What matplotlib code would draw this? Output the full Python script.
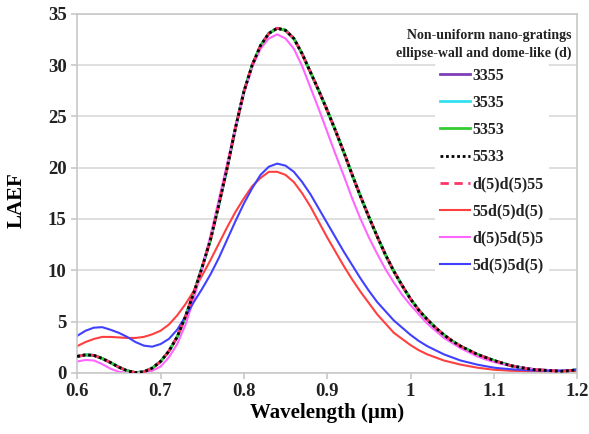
import numpy as np
import matplotlib.pyplot as plt

# wavelength grid (um)
wl = [0.60, 0.61, 0.62, 0.63, 0.64, 0.65, 0.66, 0.67, 0.68, 0.69,
      0.70, 0.71, 0.72, 0.73, 0.74, 0.75, 0.76, 0.77, 0.78, 0.79,
      0.80, 0.81, 0.82, 0.83, 0.84, 0.85, 0.86, 0.87, 0.88, 0.89,
      0.90, 0.91, 0.92, 0.93, 0.94, 0.95, 0.96, 0.97, 0.98, 0.99,
      1.00, 1.01, 1.02, 1.03, 1.04, 1.05, 1.06, 1.07, 1.08, 1.09,
      1.10, 1.11, 1.12, 1.13, 1.14, 1.15, 1.16, 1.17, 1.18, 1.19, 1.20]

# the five near-identical structures
s3355 = [1.6, 1.75, 1.7, 1.4, 1.0, 0.55, 0.2, 0.02, 0.1, 0.45,
         1.1, 2.1, 3.5, 5.5, 7.8, 10.3, 13.0, 16.4, 20.0, 23.9,
         27.4, 30.0, 31.9, 33.1, 33.6, 33.4, 32.6, 31.1, 29.3, 27.5,
         25.6, 23.6, 21.5, 19.3, 17.2, 15.2, 13.3, 11.5, 9.9, 8.5,
         7.2, 6.1, 5.2, 4.4, 3.7, 3.1, 2.6, 2.2, 1.8, 1.5,
         1.2, 0.95, 0.7, 0.55, 0.4, 0.3, 0.25, 0.2, 0.15, 0.2, 0.3]
s3535 = list(s3355)
s5353 = list(s3355)
s5533 = list(s3355)
sd5d555 = list(s3355)

s55d5d5 = [2.6, 3.0, 3.3, 3.5, 3.5, 3.45, 3.4, 3.4, 3.5, 3.75,
           4.1, 4.7, 5.6, 6.7, 8.0, 9.5, 11.0, 12.6, 14.2, 15.7,
           17.0, 18.2, 19.0, 19.6, 19.6, 19.3, 18.6, 17.5, 16.2, 14.7,
           13.2, 11.8, 10.4, 9.1, 7.9, 6.8, 5.7, 4.8, 3.9, 3.3,
           2.7, 2.2, 1.8, 1.5, 1.2, 1.0, 0.8, 0.65, 0.5, 0.4,
           0.3, 0.25, 0.2, 0.18, 0.15, 0.12, 0.1, 0.1, 0.1, 0.15, 0.2]
sd55d55 = [1.1, 1.25, 1.2, 0.85, 0.4, 0.1, 0.0, 0.0, 0.0, 0.2,
           0.6, 1.5, 2.8, 4.7, 7.2, 10.2, 13.4, 16.9, 20.4, 24.0,
           27.3, 29.8, 31.6, 32.6, 33.0, 32.6, 31.6, 29.9, 27.8, 25.7,
           23.5, 21.3, 19.2, 17.0, 15.0, 13.2, 11.6, 10.1, 8.8, 7.6,
           6.6, 5.7, 4.8, 4.1, 3.4, 2.9, 2.4, 2.0, 1.6, 1.3,
           1.05, 0.85, 0.7, 0.55, 0.45, 0.35, 0.3, 0.25, 0.2, 0.25, 0.3]
s5d55d5 = [3.6, 4.1, 4.4, 4.45, 4.2, 3.9, 3.5, 3.0, 2.65, 2.55,
           2.8, 3.3, 4.2, 5.5, 6.9, 8.2, 9.6, 11.2, 13.0, 14.8,
           16.5, 18.0, 19.3, 20.1, 20.4, 20.2, 19.6, 18.6, 17.4, 16.0,
           14.6, 13.2, 11.8, 10.5, 9.2, 8.0, 6.9, 6.0, 5.1, 4.4,
           3.7, 3.1, 2.6, 2.2, 1.8, 1.5, 1.2, 1.0, 0.8, 0.65,
           0.5, 0.42, 0.35, 0.3, 0.25, 0.22, 0.2, 0.2, 0.2, 0.25, 0.3]

serif = 'Liberation Serif'
fig = plt.figure(figsize=(5.89, 4.34), dpi=100)
ax = fig.add_axes([0.131, 0.141, 0.849, 0.827])

ax.plot(wl, s3355, color='#7E3FB8', lw=2, label='3355')
ax.plot(wl, s3535, color='#33E0F0', lw=2, label='3535')
ax.plot(wl, s5353, color='#33CC33', lw=2, label='5353')
ax.plot(wl, sd5d555, color='#FF3366', lw=2, ls=(0, (3, 2)), label='d(5)d(5)55', zorder=3)
ax.plot(wl, s5533, color='black', lw=2, ls=(0, (1, 1)), label='5533', zorder=4)
ax.plot(wl, s55d5d5, color='#FF4040', lw=1.5, label='55d(5)d(5)')
ax.plot(wl, sd55d55, color='#FF66FF', lw=1.5, label='d(5)5d(5)5')
ax.plot(wl, s5d55d5, color='#4040FF', lw=1.5, label='5d(5)5d(5)')

ax.set_xlim(0.6, 1.2)
ax.set_ylim(0, 35)
ax.set_xticks([0.6, 0.7, 0.8, 0.9, 1.0, 1.1, 1.2])
ax.set_xticklabels(['0.6', '0.7', '0.8', '0.9', '1', '1.1', '1.2'])
ax.set_yticks(range(0, 36, 5))
ax.grid(axis='y', color='#d9d9d9', lw=1.2)
ax.set_axisbelow(True)
for sp in ax.spines.values():
    sp.set_color('#c8c8c8')
    sp.set_linewidth(1.2)
ax.tick_params(colors='#c8c8c8', labelcolor='#222222', length=4, width=1.2)
for lab in ax.get_xticklabels() + ax.get_yticklabels():
    lab.set_fontfamily(serif)
    lab.set_fontweight('bold')
    lab.set_fontsize(13.5)

ax.set_xlabel('Wavelength (\u00b5m)', fontfamily=serif, fontweight='bold', fontsize=15, labelpad=2)
ax.set_ylabel('LAEF', fontfamily=serif, fontweight='bold', fontsize=15)
ax.yaxis.set_label_coords(-0.102, 0.48)

ax.text(0.988, 0.958, 'Non-uniform nano-gratings\nellipse-wall and dome-like (d)',
        transform=ax.transAxes, ha='right', va='top', fontfamily=serif,
        fontweight='bold', fontsize=10, color='#222222', linespacing=1.45)

order = ['3355', '3535', '5353', '5533', 'd(5)d(5)55', '55d(5)d(5)', 'd(5)5d(5)5', '5d(5)5d(5)']
h, l = ax.get_legend_handles_labels()
hd = dict(zip(l, h))
leg = ax.legend([hd[k] for k in order], order, loc='upper left', bbox_to_anchor=(0.70, 0.886),
                frameon=True, facecolor='white', edgecolor='none', framealpha=1,
                prop={'family': serif, 'weight': 'bold', 'size': 11.5},
                handlelength=1.9, handletextpad=0.15, labelspacing=0.7, borderpad=0.3)
for t in leg.get_texts():
    t.set_color('#222222')

fig.savefig('out.png', dpi=100)
